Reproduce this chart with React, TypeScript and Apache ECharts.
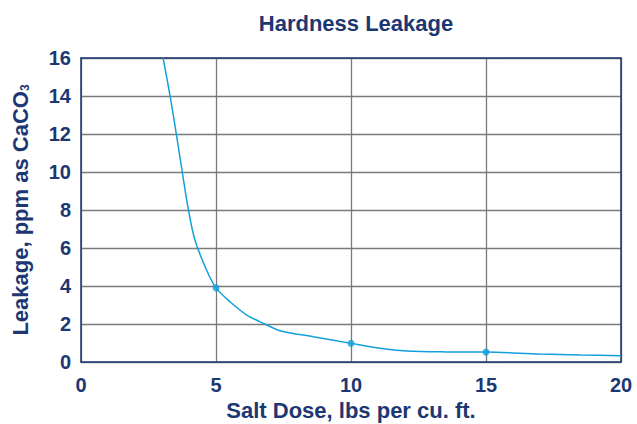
import React, { useEffect, useRef } from "react";
import * as echarts from "echarts";

const saltDose = [3.04, 3.3, 3.53, 3.75, 3.98, 4.22, 4.65, 5, 5.52, 6.14, 6.81, 7.37, 8.6, 10, 11.07, 12.06, 13.5, 15, 17, 18.5, 20];
const leakage = [16, 14, 12, 10, 8, 6.42, 4.84, 3.9, 3.17, 2.47, 2.0, 1.65, 1.33, 0.98, 0.72, 0.58, 0.53, 0.52, 0.42, 0.37, 0.33];
const markedDoses = [5, 10, 15];

const NAVY = "#1c3772";
const BLUE = "#12a0dc";
const GRID = "#7a7a7a";
const FONT = "Liberation Sans";

export default function App() {
  const ref = useRef<HTMLDivElement>(null);
  useEffect(() => {
    const chart = echarts.init(ref.current!, null, { renderer: "svg" });
    const lineData = saltDose.map((x, i) => [x, leakage[i]]);
    const pointData = saltDose
      .map((x, i) => [x, leakage[i]])
      .filter((p) => markedDoses.includes(p[0]));
    chart.setOption({
      animation: false,
      backgroundColor: "#ffffff",
      title: {
        text: "Hardness Leakage",
        left: 351,
        top: 7,
        textAlign: "center",
        textStyle: { color: NAVY, fontFamily: FONT, fontWeight: "bold", fontSize: 22 },
      },
      grid: { left: 81, right: 16, top: 58, bottom: 62, containLabel: false, outerBoundsMode: "none" },
      xAxis: [
        {
          type: "value",
          min: 0,
          max: 20,
          interval: 5,
          name: "Salt Dose, lbs per cu. ft.",
          nameLocation: "middle",
          nameGap: 37,
          nameTextStyle: { color: NAVY, fontFamily: FONT, fontWeight: "bold", fontSize: 22 },
          axisLine: { show: true, lineStyle: { color: NAVY, width: 1.5 } },
          axisTick: { show: false },
          axisLabel: { color: NAVY, fontFamily: FONT, fontWeight: "bold", fontSize: 20, margin: 13 },
          splitLine: { show: true, lineStyle: { color: GRID, width: 1.3 } },
        },
        {
          type: "value",
          position: "top",
          min: 0,
          max: 20,
          interval: 5,
          axisLine: { show: true, onZero: false, lineStyle: { color: NAVY, width: 1.5 } },
          axisTick: { show: false },
          axisLabel: { show: false },
          splitLine: { show: false },
        },
      ],
      yAxis: [
        {
          type: "value",
          min: 0,
          max: 16,
          interval: 2,
          name: "{a|Leakage, ppm as CaCO}{s|3}",
          nameLocation: "middle",
          nameGap: 50,
          nameRotate: 90,
          nameTextStyle: {
            color: NAVY,
            fontFamily: FONT,
            fontWeight: "bold",
            fontSize: 22,
            rich: {
              a: { color: NAVY, fontFamily: FONT, fontWeight: "bold", fontSize: 22 },
              s: { color: NAVY, fontFamily: FONT, fontWeight: "bold", fontSize: 12, padding: [10, 0, 0, 0] },
            },
          },
          axisLine: { show: true, lineStyle: { color: NAVY, width: 1.5 } },
          axisTick: { show: false },
          axisLabel: { color: NAVY, fontFamily: FONT, fontWeight: "bold", fontSize: 20, margin: 10 },
          splitLine: { show: true, lineStyle: { color: GRID, width: 1.3 } },
        },
        {
          type: "value",
          position: "right",
          min: 0,
          max: 16,
          interval: 2,
          axisLine: { show: true, onZero: false, lineStyle: { color: NAVY, width: 1.5 } },
          axisTick: { show: false },
          axisLabel: { show: false },
          splitLine: { show: false },
        },
      ],
      series: [
        {
          type: "line",
          data: lineData,
          smooth: 0.3,
          showSymbol: false,
          lineStyle: { color: BLUE, width: 1.5 },
          clip: true,
          z: 3,
        },
        {
          type: "scatter",
          data: pointData,
          symbolSize: 7,
          itemStyle: { color: BLUE },
          z: 4,
        },
      ],
    });
    return () => chart.dispose();
  }, []);
  return <div ref={ref} style={{ width: 637, height: 424, position: "absolute", left: 0, top: 0 }} />;
}
